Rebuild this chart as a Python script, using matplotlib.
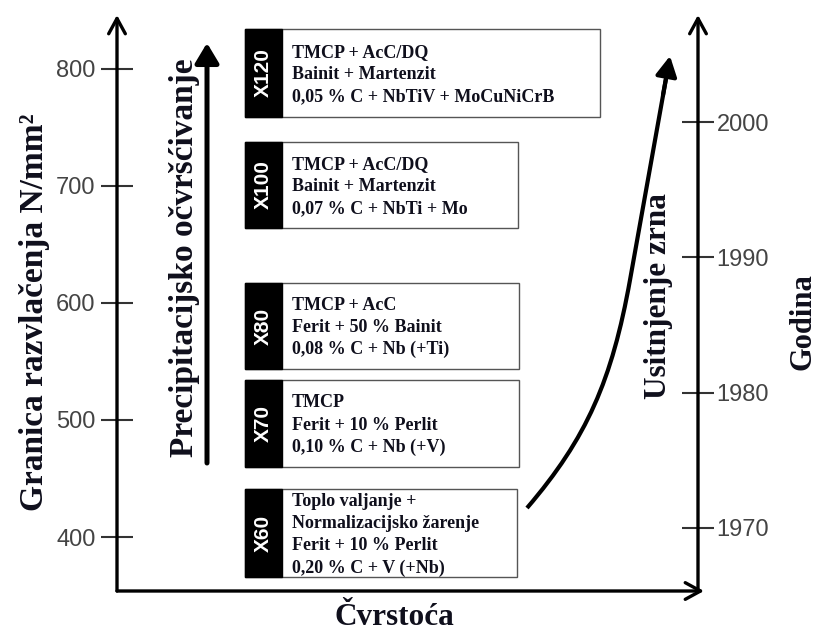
import matplotlib.pyplot as plt
from matplotlib.patches import Rectangle, PathPatch
from matplotlib.path import Path

# values
strength_ticks = [400, 500, 600, 700, 800]        # N/mm2
year_ticks = [1970, 1980, 1990, 2000]
grades = ['X60', 'X70', 'X80', 'X100', 'X120']
grade_lines = [
    ['Toplo valjanje +', 'Normalizacijsko žarenje', 'Ferit + 10 % Perlit', '0,20 % C + V (+Nb)'],
    ['TMCP', 'Ferit + 10 % Perlit', '0,10 % C + Nb (+V)'],
    ['TMCP + AcC', 'Ferit + 50 % Bainit', '0,08 % C + Nb (+Ti)'],
    ['TMCP + AcC/DQ', 'Bainit + Martenzit', '0,07 % C + NbTi + Mo'],
    ['TMCP + AcC/DQ', 'Bainit + Martenzit', '0,05 % C + NbTiV + MoCuNiCrB'],
]

# layout (pixels of the 818x632 picture)
W, H = 818, 632
AX_L, AX_R, AX_T, AX_B = 117, 698, 15, 591
box_top = [489, 380, 283, 142, 29]
box_bot = [577, 467, 369, 228, 117]
box_right = [517, 519, 519, 518, 600]
BOX_L, STRIP_R = 245, 282

INK = '#0f0f1c'
SERIF = 'Liberation Serif'
plt.rcParams['font.family'] = 'Liberation Sans'

fig = plt.figure(figsize=(W / 100, H / 100), dpi=100)

# strength axis (left) and year axis (right)
ax = fig.add_axes([AX_L / W, 1 - AX_B / H, (AX_R - AX_L) / W, (AX_B - AX_T) / H])
ax.patch.set_alpha(0)
ax.set_xticks([])
ax.set_ylim(353.9, 845.8)
ax.set_yticks(strength_ticks)
ax.tick_params(axis='y', direction='inout', length=23, width=1.5, color='#333333',
               pad=4, labelsize=17, labelcolor='#444444')
for s in ax.spines.values():
    s.set_visible(False)

ax2 = ax.twinx()
ax2.set_ylim(1965.34, 2007.91)
ax2.set_yticks(year_ticks)
ax2.tick_params(axis='y', direction='inout', length=23, width=1.5, color='#333333',
                pad=2, labelsize=17, labelcolor='#444444')
for s in ax2.spines.values():
    s.set_visible(False)

# drawing layer in pixel coordinates
cv = fig.add_axes([0, 0, 1, 1])
cv.set_xlim(0, W)
cv.set_ylim(H, 0)
cv.axis('off')


def arrow(p0, p1, style, lw):
    cv.annotate('', xy=p1, xytext=p0,
                arrowprops=dict(arrowstyle=style, lw=lw, color='black',
                                mutation_scale=20, shrinkA=0, shrinkB=0))


chevron = '->,head_length=0.55,head_width=0.3'
arrow((AX_L, AX_B), (AX_L, AX_T), chevron, 2.4)
arrow((AX_R, AX_B), (AX_R, AX_T), chevron, 2.4)
arrow((AX_L, AX_B), (AX_R + 6, AX_B), chevron, 2.4)

# precipitation hardening arrow
arrow((207, 463), (207, 43), '-|>,head_length=0.6,head_width=0.36', 3.6)

# grain refinement curve: smooth shaft + separate head
curve = Path([(527, 508), (587, 438), (612, 380), (630, 280), (666.5, 76)],
             [Path.MOVETO, Path.CURVE4, Path.CURVE4, Path.CURVE4, Path.LINETO])
cv.add_patch(PathPatch(curve, fill=False, lw=3, edgecolor='black', capstyle='butt'))
arrow((663, 95), (670, 56), '-|>,head_length=0.6,head_width=0.32', 3)

# grade boxes
for g, lines, top, bot, right in zip(grades, grade_lines, box_top, box_bot, box_right):
    cv.add_patch(Rectangle((BOX_L, top), right - BOX_L, bot - top,
                           facecolor='white', edgecolor='#555555', lw=1))
    cv.add_patch(Rectangle((BOX_L, top), STRIP_R - BOX_L, bot - top,
                           facecolor='black', edgecolor='black', lw=1))
    mid = (top + bot) / 2
    cv.text((BOX_L + STRIP_R) / 2, mid, g, rotation=90, color='white',
            fontweight='bold', fontsize=15, ha='center', va='center')
    n = len(lines)
    for i, line in enumerate(lines):
        y = mid + (i - (n - 1) / 2) * 22.3 + 6
        cv.text(292, y, line, ha='left', va='baseline', fontsize=13,
                family=SERIF, fontweight='bold', color=INK)

# labels
lab = dict(family=SERIF, fontweight='bold', color=INK)
cv.text(43, 312, 'Granica razvlačenja N/mm²', rotation=90, rotation_mode='anchor',
        ha='center', va='baseline', fontsize=24, **lab)
cv.text(193, 258, 'Precipitacijsko očvršćivanje', rotation=90, rotation_mode='anchor',
        ha='center', va='baseline', fontsize=24, **lab)
cv.text(666, 296, 'Usitnjenje zrna', rotation=90, rotation_mode='anchor',
        ha='center', va='baseline', fontsize=22.5, **lab)
cv.text(811, 322, 'Godina', rotation=90, rotation_mode='anchor',
        ha='center', va='baseline', fontsize=22, **lab)
cv.text(394, 625, 'Čvrstoća', ha='center', va='baseline', fontsize=22.5, **lab)

fig.savefig('out.png', dpi=100)
